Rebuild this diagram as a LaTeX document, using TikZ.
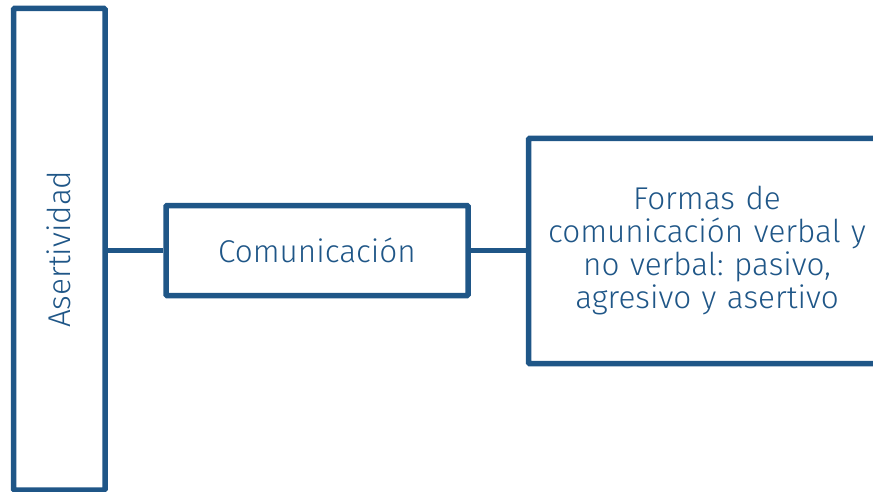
\documentclass[tikz,border=0pt]{standalone}
\usepackage{fontspec}
\setmainfont{Fira Sans Light}
\usepackage{xcolor}
\usepackage{tikz}
\usetikzlibrary{positioning}

\definecolor{mapblue}{HTML}{1F5687}
\frenchspacing

\begin{document}
\begin{tikzpicture}
                [x=1pt, y=-1pt,
                 box/.style = {draw=mapblue, line width=5.5pt, rounded corners=1pt,
                               text=mapblue, inner sep=0pt, align=center,
                               font=\fontsize{31.5}{33}\selectfont},
                 link/.style = {draw=mapblue, line width=5.5pt}]

                \useasboundingbox (0,0) rectangle (873,492);

                \node[box, minimum width=91.5pt, minimum height=481.5pt] (asert) at (59.25, 249.25) {};
                \node[mapblue, rotate=90, font=\fontsize{31.5}{33}\selectfont] (asertlabel) at (asert.center) {Asertividad};
                \node[box, minimum width=302pt, minimum height=90pt] (comun) at (317, 250.5) {Comunicación};
                \node[box, minimum width=357pt, minimum height=225pt, text width=345pt] (formas) at (707, 251)
                    {Formas de\\comunicación verbal y\\no verbal: pasivo,\\agresivo y asertivo};

                \path[link] (comun.west) -- (comun.west -| asert.east);
                \path[link] (comun.east) -- (comun.east -| formas.west);

            \end{tikzpicture}
\end{document}
